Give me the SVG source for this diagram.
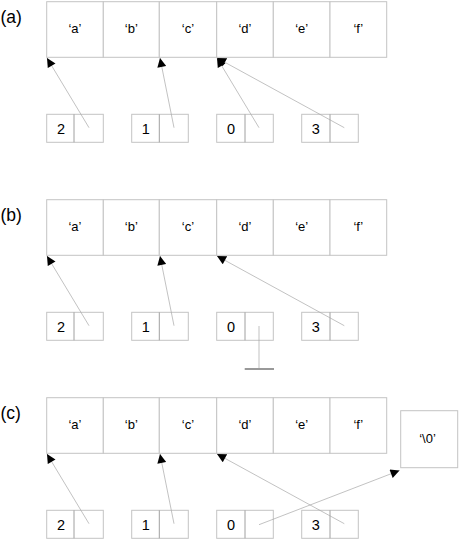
<svg xmlns="http://www.w3.org/2000/svg" width="460" height="542" viewBox="0 0 460 542">
<style>
.bg{fill:#fff}
.cell{fill:#fff;stroke:#c4c4c4;stroke-width:1}
.div{stroke:#a0a0a0;stroke-width:1}
.t{font-family:"Liberation Sans",Arial,sans-serif;font-size:13px;fill:#000;text-anchor:middle}
.n{font-family:"Liberation Sans",Arial,sans-serif;font-size:14.5px;fill:#000;text-anchor:middle}
.lbl{font-family:"Liberation Sans",Arial,sans-serif;font-size:17.5px;fill:#000}
.ptr{stroke:#a8a8a8;stroke-width:0.7;fill:none;marker-end:url(#ah)}
.gnd{stroke:#a8a8a8;stroke-width:0.7;fill:none}
.gbar{stroke:#999;stroke-width:2;fill:none}
</style>
<defs>
<marker id="ah" viewBox="0 0 10 10" refX="10" refY="5" markerWidth="10" markerHeight="9" markerUnits="userSpaceOnUse" orient="auto">
<path d="M0,0 L10,5 L0,10 Z" fill="#000"/>
</marker>
<g id="arr">
<rect class="cell" x="46.7" y="1.7" width="56.6" height="55.6"/>
<rect class="cell" x="103.3" y="1.7" width="56" height="55.6"/>
<rect class="cell" x="159.3" y="1.7" width="57.4" height="55.6"/>
<rect class="cell" x="216.7" y="1.7" width="56.6" height="55.6"/>
<rect class="cell" x="273.3" y="1.7" width="56.7" height="55.6"/>
<rect class="cell" x="330" y="1.7" width="56.7" height="55.6"/>
<text class="t" x="75" y="33">‘a’</text>
<text class="t" x="131.3" y="33">‘b’</text>
<text class="t" x="188" y="33">‘c’</text>
<text class="t" x="245" y="33">‘d’</text>
<text class="t" x="301.7" y="33">‘e’</text>
<text class="t" x="358.3" y="33">‘f’</text>
</g>
<g id="nodes">
<rect class="cell" x="46.7" y="114.3" width="56.6" height="28"/><line class="div" x1="74" y1="114.3" x2="74" y2="142.3"/><text class="n" x="61" y="133.5">2</text>
<rect class="cell" x="131.7" y="114.3" width="56.6" height="28"/><line class="div" x1="159.3" y1="114.3" x2="159.3" y2="142.3"/><text class="n" x="145.8" y="133.5">1</text>
<rect class="cell" x="216.7" y="114.3" width="56.6" height="28"/><line class="div" x1="245" y1="114.3" x2="245" y2="142.3"/><text class="n" x="231" y="133.5">0</text>
<rect class="cell" x="301.7" y="114.3" width="56.6" height="28"/><line class="div" x1="330" y1="114.3" x2="330" y2="142.3"/><text class="n" x="315.8" y="133.5">3</text>
</g>
</defs>
<rect class="bg" x="0" y="0" width="460" height="542"/>

<g id="panel-a">
<text class="lbl" x="0.5" y="23">(a)</text>
<g id="array-a"><use href="#arr"/></g>
<g id="nodes-a"><use href="#nodes"/></g>
<g id="connectors-a">
<line class="ptr" x1="89" y1="127.7" x2="47" y2="58"/>
<line class="ptr" x1="174" y1="127.7" x2="160" y2="58"/>
<line class="ptr" x1="259" y1="127.7" x2="217" y2="58"/>
<line class="ptr" x1="344.3" y1="127.7" x2="217" y2="58"/>
</g>
</g>

<g id="panel-b" transform="translate(0,198)">
<text class="lbl" x="0.5" y="23">(b)</text>
<g id="array-b"><use href="#arr"/></g>
<g id="nodes-b"><use href="#nodes"/></g>
<g id="connectors-b">
<line class="ptr" x1="89" y1="127.7" x2="47" y2="58"/>
<line class="ptr" x1="174" y1="127.7" x2="160" y2="58"/>
<line class="ptr" x1="344.3" y1="127.7" x2="217" y2="58"/>
<line class="gnd" x1="259" y1="128" x2="259" y2="171"/>
<line class="gbar" x1="244.7" y1="171" x2="274" y2="171"/>
</g>
</g>

<g id="panel-c" transform="translate(0,396)">
<text class="lbl" x="0.5" y="23">(c)</text>
<g id="array-c"><use href="#arr"/></g>
<g id="nodes-c"><use href="#nodes"/></g>
<g id="null-cell">
<rect class="cell" x="400.7" y="14.7" width="57" height="57"/>
<text class="t" x="427.5" y="46.5">‘\0’</text>
</g>
<g id="connectors-c">
<line class="ptr" x1="89" y1="127.7" x2="47" y2="58"/>
<line class="ptr" x1="174" y1="127.7" x2="160" y2="58"/>
<line class="ptr" x1="344.3" y1="127.7" x2="217" y2="58"/>
<line class="ptr" x1="259" y1="128.7" x2="399.5" y2="74.5"/>
</g>
</g>
</svg>
